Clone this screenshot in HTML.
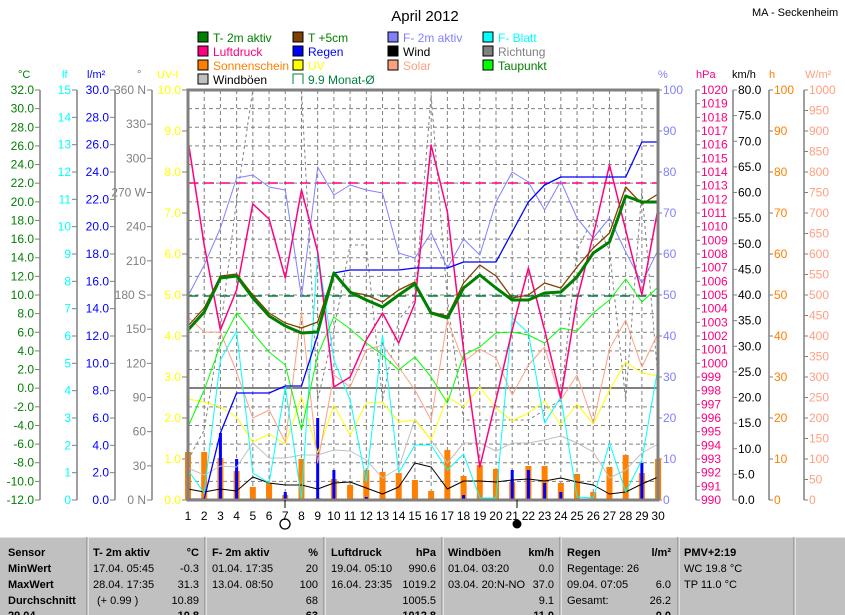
<!DOCTYPE html>
<html><head><meta charset="utf-8"><style>
body{margin:0;background:#fff;width:845px;height:615px;overflow:hidden}
svg{display:block;font-family:"Liberation Sans",sans-serif}
</style></head><body>
<svg width="845" height="615" viewBox="0 0 845 615" xmlns="http://www.w3.org/2000/svg">
<rect width="845" height="615" fill="#fff"/>
<text x="425" y="21" font-size="15" text-anchor="middle">April 2012</text>
<text x="752" y="16" font-size="11">MA - Seckenheim</text>
<!-- legend -->
<g font-size="12">
<rect x="198" y="32" width="10" height="10" fill="#008000" stroke="#000"/><text x="213" y="42" fill="#008000">T- 2m aktiv</text>
<rect x="198" y="46" width="10" height="10" fill="#ff0080" stroke="#000"/><text x="213" y="56" fill="#ff0080">Luftdruck</text>
<rect x="198" y="60" width="10" height="10" fill="#ff8000" stroke="#000"/><text x="213" y="70" fill="#ff8000">Sonnenschein</text>
<rect x="198" y="74" width="10" height="10" fill="#c0c0c0" stroke="#000"/><text x="213" y="84" fill="#000">Windböen</text>
<rect x="293" y="32" width="10" height="10" fill="#804000" stroke="#000"/><text x="308" y="42" fill="#008000">T +5cm</text>
<rect x="293" y="46" width="10" height="10" fill="#0000ff" stroke="#000"/><text x="308" y="56" fill="#0000ff">Regen</text>
<rect x="293" y="60" width="10" height="10" fill="#ffff00" stroke="#000"/><text x="308" y="70" fill="#ffff00">UV</text>
<path d="M293 84V74h10v10" fill="none" stroke="#008040"/><text x="308" y="84" fill="#008040">9.9 Monat-Ø</text>
<rect x="388" y="32" width="10" height="10" fill="#8080ff" stroke="#000"/><text x="403" y="42" fill="#8080ff">F- 2m aktiv</text>
<rect x="388" y="46" width="10" height="10" fill="#000" stroke="#000"/><text x="403" y="56" fill="#000">Wind</text>
<rect x="388" y="60" width="10" height="10" fill="#ffa080" stroke="#000"/><text x="403" y="70" fill="#ffa080">Solar</text>
<rect x="483" y="32" width="10" height="10" fill="#00ffff" stroke="#000"/><text x="498" y="42" fill="#00ffff">F- Blatt</text>
<rect x="483" y="46" width="10" height="10" fill="#808080" stroke="#000"/><text x="498" y="56" fill="#808080">Richtung</text>
<rect x="483" y="60" width="10" height="10" fill="#00ff00" stroke="#000"/><text x="498" y="70" fill="#008000">Taupunkt</text>
</g>
<!-- axis titles -->
<g font-size="11">
<text x="18" y="78" fill="#008000">°C</text>
<text x="62" y="78" fill="#00ffff">lf</text>
<text x="87" y="78" fill="#0000ff">l/m²</text>
<text x="137" y="78" fill="#808080">°</text>
<text x="157" y="78" fill="#ffff00">UV-I</text>
<text x="658" y="78" fill="#8080ff">%</text>
<text x="696" y="78" fill="#ff0080">hPa</text>
<text x="732" y="78" fill="#000">km/h</text>
<text x="769" y="78" fill="#ff8000">h</text>
<text x="805" y="78" fill="#ffa080">W/m²</text>
</g>
<!-- axis lines -->
<g stroke="#808080" stroke-width="1.5">
<line x1="40" y1="90" x2="40" y2="500"/><line x1="77" y1="90" x2="77" y2="500"/>
<line x1="115" y1="90" x2="115" y2="500"/><line x1="152" y1="90" x2="152" y2="500"/>
<line x1="696" y1="90" x2="696" y2="500"/><line x1="733" y1="90" x2="733" y2="500"/>
<line x1="769" y1="90" x2="769" y2="500"/><line x1="804" y1="90" x2="804" y2="500"/>
</g>
<g id="ticks" font-size="12"></g>
<!-- grid -->
<g id="grid" stroke="#808080" stroke-dasharray="4,3" stroke-width="1"></g>
<line x1="188" y1="183" x2="658" y2="183" stroke="#ff0080" stroke-width="1.5" stroke-dasharray="10,6"/>
<line x1="188" y1="296" x2="658" y2="296" stroke="#008040" stroke-width="1.5" stroke-dasharray="10,6"/>
<line x1="188" y1="388" x2="658" y2="388" stroke="#808080" stroke-width="2"/>
<g id="series" fill="none"></g>
<rect x="188" y="90" width="470" height="410" fill="none" stroke="#808080" stroke-width="3"/>
<g id="xl" font-size="12" text-anchor="middle"></g>
<circle cx="285" cy="524" r="5" fill="none" stroke="#000" stroke-width="1.3"/>
<circle cx="517" cy="524" r="4.5" fill="#000"/>
<line x1="285" y1="500" x2="285" y2="508" stroke="#000"/><line x1="517" y1="500" x2="517" y2="508" stroke="#000"/>
<!-- table -->
<rect x="0" y="537" width="845" height="78" fill="#c0c0c0"/>
<g stroke="#fff" stroke-width="1"><line x1="0" y1="537" x2="845" y2="537"/>
<line x1="88" y1="537" x2="88" y2="615"/><line x1="206" y1="537" x2="206" y2="615"/><line x1="325" y1="537" x2="325" y2="615"/><line x1="443" y1="537" x2="443" y2="615"/><line x1="561" y1="537" x2="561" y2="615"/><line x1="679" y1="537" x2="679" y2="615"/><line x1="795" y1="537" x2="795" y2="615"/></g>
<g stroke="#808080" stroke-width="1"><line x1="87" y1="537" x2="87" y2="615"/><line x1="205" y1="537" x2="205" y2="615"/><line x1="324" y1="537" x2="324" y2="615"/><line x1="442" y1="537" x2="442" y2="615"/><line x1="560" y1="537" x2="560" y2="615"/><line x1="678" y1="537" x2="678" y2="615"/><line x1="794" y1="537" x2="794" y2="615"/></g>
<g font-size="11" fill="#000">
<g font-weight="bold"><text x="8" y="556">Sensor</text><text x="8" y="572">MinWert</text><text x="8" y="588">MaxWert</text><text x="8" y="604">Durchschnitt</text><text x="8" y="619">29.04.</text>
<text x="93" y="556">T- 2m aktiv</text><text x="199" y="556" text-anchor="end">°C</text>
<text x="212" y="556">F- 2m aktiv</text><text x="318" y="556" text-anchor="end">%</text>
<text x="331" y="556">Luftdruck</text><text x="436" y="556" text-anchor="end">hPa</text>
<text x="448" y="556">Windböen</text><text x="554" y="556" text-anchor="end">km/h</text>
<text x="567" y="556">Regen</text><text x="671" y="556" text-anchor="end">l/m²</text>
<text x="684" y="556">PMV+2:19</text>
<text x="199" y="619" text-anchor="end">10.8</text><text x="318" y="619" text-anchor="end">63</text><text x="436" y="619" text-anchor="end">1012.8</text><text x="554" y="619" text-anchor="end">11.0</text><text x="671" y="619" text-anchor="end">0.0</text></g>
<text x="93" y="572">17.04.  05:45</text><text x="199" y="572" text-anchor="end">-0.3</text>
<text x="93" y="588">28.04.  17:35</text><text x="199" y="588" text-anchor="end">31.3</text>
<text x="97" y="604">(+ 0.99 )</text><text x="199" y="604" text-anchor="end">10.89</text>
<text x="212" y="572">01.04.  17:35</text><text x="318" y="572" text-anchor="end">20</text>
<text x="212" y="588">13.04.  08:50</text><text x="318" y="588" text-anchor="end">100</text>
<text x="318" y="604" text-anchor="end">68</text>
<text x="331" y="572">19.04.  05:10</text><text x="436" y="572" text-anchor="end">990.6</text>
<text x="331" y="588">16.04.  23:35</text><text x="436" y="588" text-anchor="end">1019.2</text>
<text x="436" y="604" text-anchor="end">1005.5</text>
<text x="448" y="572">01.04.  03:20</text><text x="554" y="572" text-anchor="end">0.0</text>
<text x="448" y="588">03.04.  20:N-NO</text><text x="554" y="588" text-anchor="end">37.0</text>
<text x="554" y="604" text-anchor="end">9.1</text>
<text x="567" y="572">Regentage: 26</text>
<text x="567" y="588">09.04.  07:05</text><text x="671" y="588" text-anchor="end">6.0</text>
<text x="567" y="604">Gesamt:</text><text x="671" y="604" text-anchor="end">26.2</text>
<text x="684" y="572">WC 19.8 °C</text><text x="684" y="588">TP 11.0 °C</text>
</g>
</svg>
<script>
(function(){
var NS="http://www.w3.org/2000/svg";
function el(p,t,a,txt){var e=document.createElementNS(NS,t);for(var k in a)e.setAttribute(k,a[k]);if(txt!==undefined)e.textContent=txt;p.appendChild(e);return e;}
var T=document.getElementById('ticks');
function axis(lx,n,fmt,col,left,minor){
  for(var i=0;i<=n;i++){var y=90+i*410/n;
    if(left){el(T,'line',{x1:lx-5,y1:y,x2:lx,y2:y,stroke:'#808080'});
      var s=fmt(i); if(s!==null) el(T,'text',{x:lx-6,y:y+4,fill:col,'text-anchor':'end'},s);}
    else{el(T,'line',{x1:lx,y1:y,x2:lx+4,y2:y,stroke:'#808080'});
      var s2=fmt(i); if(s2!==null) el(T,'text',{x:lx+5,y:y+4,fill:col},s2);}
  }
}
axis(40,22,function(i){return (32-2*i).toFixed(1)},'#008000',true);
axis(77,15,function(i){return String(15-i)},'#00ffff',true);
axis(115,15,function(i){return (30-2*i).toFixed(1)},'#0000ff',true);
var deg=['360 N','330','300','270 W','240','210','180 S','150','120','90','60','30','0    N'];
axis(152,12,function(i){return deg[i]},'#808080',true);
axis(187,10,function(i){return (10-i).toFixed(1)},'#ffff00',true);
axis(658,10,function(i){return String(100-10*i)},'#8080ff',false);
axis(696,30,function(i){return String(1020-i)},'#ff0080',false);
axis(733,16,function(i){return (80-5*i).toFixed(1)},'#000',false);
axis(769,10,function(i){return String(100-10*i)},'#ff8000',false);
axis(804,20,function(i){return String(1000-50*i)},'#ffa080',false);
var X=[];for(var d=0;d<30;d++)X.push(188+d*16.21);
var G=document.getElementById('grid');
for(var d=1;d<29;d++)el(G,'line',{x1:X[d],y1:90,x2:X[d],y2:500});
for(var i=1;i<22;i++){var y=90+i*410/22;el(G,'line',{x1:188,y1:y,x2:658,y2:y});}
var XL=document.getElementById('xl');
for(var d=0;d<30;d++)el(XL,'text',{x:X[d],y:520},String(d+1));
var S=document.getElementById('series');
function line(ys,col,w,dash){var p=ys.map(function(y,i){return X[i].toFixed(1)+','+y}).join(' ');
 var a={points:p,stroke:col,'stroke-width':w||1,fill:'none','stroke-linejoin':'round'};if(dash)a['stroke-dasharray']=dash;el(S,'polyline',a);}
function bars(ys,col,w){ys.forEach(function(y,i){if(y<499)el(S,'rect',{x:X[i]-w/2,y:y,width:w,height:500-y,fill:col});});}
// Sonnenschein
bars([452,452,458,471,487,483,495,459,498,479,485,470,472,473,480,491,450,476,465,469,482,466,466,483,474,492,467,455,473,459],'#ff8000',6);
// rain daily
bars([500,500,433,459,500,500,492,500,418,470,500,497,500,500,500,500,500,495,500,500,470,470,483,492,500,500,500,500,463,500],'#0000ff',3);
// Richtung
line([460,430,330,200,90,90,90,90,400,330,245,245,400,320,300,95,300,420,420,420,420,420,410,400,250,218,250,400,190,380],'#808080',1,'3,3');
// Windböen
line([468,475,466,467,443,458,458,455,455,450,451,460,478,468,419,440,463,443,443,451,443,443,440,436,443,452,478,470,453,444],'#c0c0c0',1);
// Wind
line([489,492,489,491,477,483,485,485,489,483,482,488,494,487,463,467,489,481,481,482,480,479,481,478,482,485,494,492,484,477],'#000',1);
// UV
line([399,402,407,417,442,434,444,397,453,405,435,403,402,422,420,440,397,407,387,408,421,413,401,425,404,424,390,362,373,376],'#ffff00',1);
// Solar
line([317,332,332,372,418,410,442,312,463,375,387,350,345,367,390,420,320,362,349,358,395,365,347,400,375,423,349,320,367,333],'#ffa080',1);
// F-Blatt
line([470,493,360,331,473,483,387,499,252,360,400,482,335,473,445,445,470,454,498,498,318,333,423,397,497,498,443,492,460,367],'#00ffff',1);
// Taupunkt
line([427,390,345,313,333,352,365,430,355,317,329,343,355,370,357,377,403,355,347,333,332,335,343,328,331,313,300,279,302,287],'#00ff00',1);
// F-2m
line([296,265,228,178,175,187,190,297,167,195,185,190,193,253,258,233,268,239,255,202,172,182,210,181,218,238,218,252,283,250],'#8080ff',1);
// Luftdruck
line([140,245,330,290,204,219,278,190,252,387,377,340,313,343,303,145,212,350,467,400,330,268,330,398,300,235,165,230,295,208],'#ff0080',1.5);
// Regen cumulative
line([499,499,433,393,393,393,386,386,335,273,270,270,270,270,268,268,268,262,262,262,232,202,185,177,177,177,177,177,142,142],'#0000ff',1.3);
// T+5cm
line([326,308,276,274,295,313,323,328,322,272,292,295,302,290,282,312,316,283,265,276,298,295,283,288,267,248,233,187,204,194],'#804000',1.3);
// T-2m
line([330,312,278,276,298,316,326,333,332,273,292,300,307,295,284,313,318,288,275,288,300,300,293,292,277,253,242,196,202,202],'#008000',3);
})();
</script>
</body></html>
